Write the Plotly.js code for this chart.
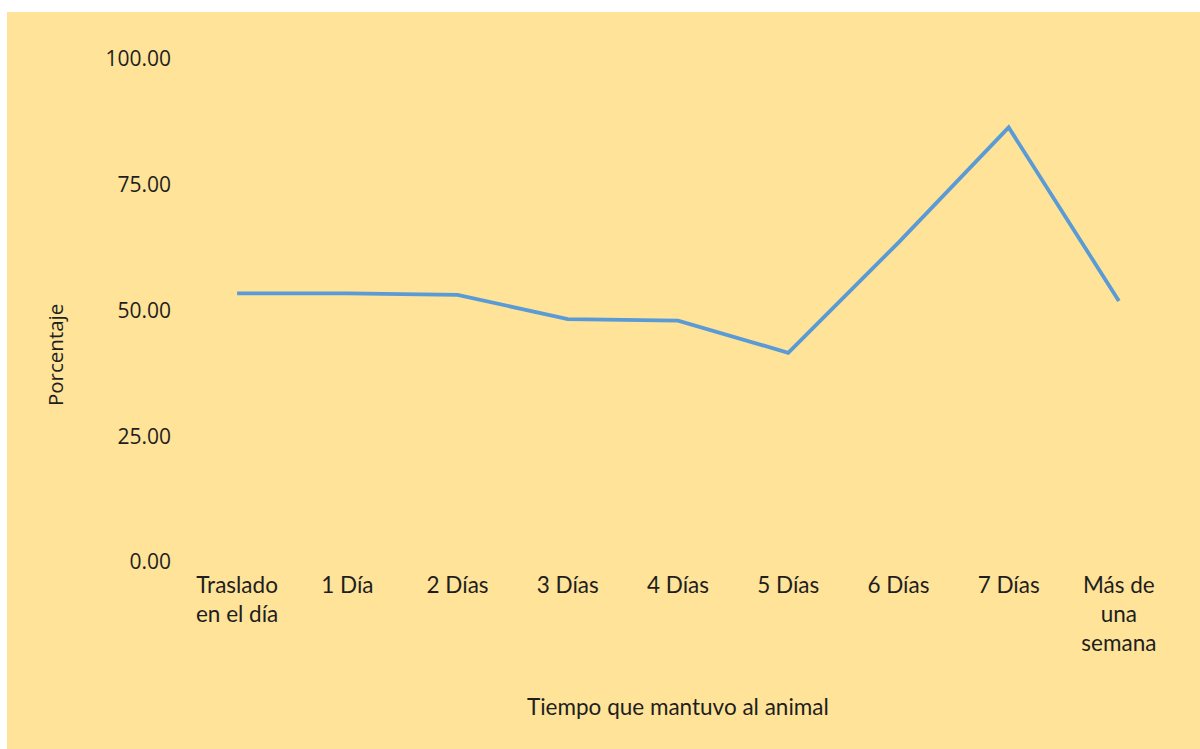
<!DOCTYPE html>
<html>
<head>
<meta charset="utf-8">
<script src="https://cdn.plot.ly/plotly-3.0.1.min.js"></script>
<style>
  html, body { margin: 0; padding: 0; background: #ffffff; }
  #chart { position: absolute; left: 7px; top: 12px; width: 1193px; height: 737px; }
</style>
</head>
<body>
<div id="chart"></div>
<script>
const categories = ["Traslado<br>en el día", "1 Día", "2 Días", "3 Días", "4 Días", "5 Días", "6 Días", "7 Días", "Más de<br>una<br>semana"];
const porcentaje = [53.4, 53.4, 53.1, 48.3, 48.0, 41.6, 63.5, 86.4, 51.9];
const yTickValues = [0, 25, 50, 75, 100];
const yTickLabels = ["0.00", "25.00", "50.00", "75.00", "100.00"];
const xTitle = "Tiempo que mantuvo al animal";
const yTitle = "Porcentaje";

const textColor = "#1e1e1e";

const trace = {
  x: categories,
  y: porcentaje,
  type: "scatter",
  mode: "lines",
  line: { color: "#5B9BD5", width: 3.8 },
  hoverinfo: "x+y"
};

const layout = {
  width: 1193,
  height: 737,
  paper_bgcolor: "#FEE398",
  plot_bgcolor: "#FEE398",
  margin: { l: 175, r: 26, t: 47, b: 187 },
  showlegend: false,
  font: { family: "Lato, sans-serif", color: textColor },
  xaxis: {
    type: "category",
    range: [-0.5, categories.length - 0.5],
    showgrid: false,
    zeroline: false,
    showline: false,
    ticks: "",
    tickfont: { family: "Lato, sans-serif", size: 22.5, color: textColor },
    ticklabelstandoff: 7,
    automargin: false
  },
  yaxis: {
    range: [0, 100],
    tickvals: yTickValues,
    ticktext: yTickLabels,
    showgrid: false,
    zeroline: false,
    showline: false,
    ticks: "",
    tickfont: { family: "'Open Sans', sans-serif", size: 21, color: textColor },
    ticklabelstandoff: 10,
    automargin: false
  },
  annotations: [
    {
      text: xTitle, xref: "paper", yref: "paper", x: 0.5, y: -0.2863,
      xanchor: "center", yanchor: "middle", showarrow: false,
      font: { family: "Lato, sans-serif", size: 22.5, color: textColor }
    },
    {
      text: yTitle, xref: "paper", yref: "paper", x: -0.128, y: 0.4115,
      xanchor: "center", yanchor: "middle", showarrow: false, textangle: -90,
      font: { family: "'Open Sans', sans-serif", size: 20.5, color: textColor }
    }
  ]
};

Plotly.newPlot("chart", [trace], layout, { displayModeBar: false });
</script>
</body>
</html>
